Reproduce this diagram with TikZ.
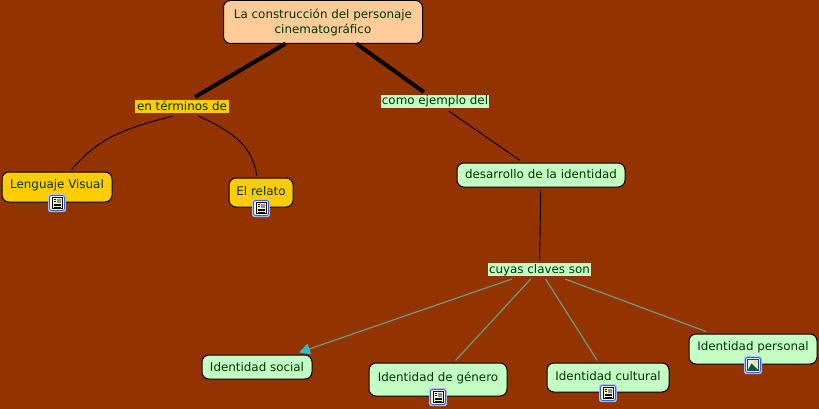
\documentclass[tikz,border=0pt]{standalone}
\usepackage{fontspec}
\setmainfont{DejaVu Sans}
\usetikzlibrary{arrows.meta}
\definecolor{mapbg}{HTML}{933300}
\definecolor{mapgold}{HTML}{FFCC00}
\definecolor{mappeach}{HTML}{FFCC99}
\definecolor{mapmint}{HTML}{C4FFC4}
\definecolor{maptext}{HTML}{003300}
\definecolor{mapline}{HTML}{6F9A80}
\definecolor{maptip}{HTML}{33BBCC}
\definecolor{iconblue}{HTML}{3366CC}
\tikzset{
  box/.style={rectangle,draw=black,line width=1pt,rounded corners=7pt,text=maptext,
    font=\fontsize{11.9}{15}\selectfont,align=center,inner sep=0pt,outer sep=2.5pt},
  linkbox/.style={rectangle,text=maptext,font=\fontsize{11.9}{13}\selectfont,
    inner sep=0pt,outer sep=3pt,text height=9pt,text depth=1pt},
  textdrop/.style={text height=9pt,text depth=#1},
  thick link/.style={line width=4pt,black},
  thin link/.style={line width=.9pt,black},
  teal link/.style={line width=1.2pt,mapline},
  pics/iconframe/.style={code={
    \draw[rounded corners=2pt,draw=iconblue!40,line width=1pt,fill=white] (-8.5,-8.5) rectangle (8.5,8.5);
    \draw[rounded corners=2pt,draw=iconblue,line width=1pt,fill=white] (-7.5,-7.5) rectangle (7.5,7.5);
  }},
  pics/docicon/.style={code={
    \pic {iconframe};
    \draw[black,fill=yellow!25,line width=.7pt] (-5,-5.5) rectangle (5,5.5);
    \fill[iconblue!70] (0,-4.5) rectangle (4,-.5);
    \fill[red!60] (2,-4.5) rectangle (4,-2.5);
    \foreach \ypos in {1,2.7,4.2} {\draw[black,line width=.7pt] (-3.5,\ypos) -- (3.5,\ypos);}
    \foreach \ypos in {-3.5,-1.8} {\draw[black,line width=.7pt] (-3.5,\ypos) -- (-1,\ypos);}
  }},
  pics/imgicon/.style={code={
    \pic {iconframe};
    \draw[iconblue!60!black,fill=iconblue!15,line width=.7pt] (-5.5,-5.5) rectangle (5.5,5.5);
    \fill[yellow!80!orange] (2.5,-3) circle (1.6);
    \fill[green!40!black] (-5,5) -- (-1.5,-1.5) -- (5,5) -- cycle;
  }}
}
\begin{document}
\begin{tikzpicture}[x=1pt,y=-1pt]
\useasboundingbox (0,0) rectangle (819,409);
\fill[mapbg] (0,0) rectangle (819,409);

\node [box,fill=mappeach,minimum width=199pt,minimum height=43pt,outer sep=0pt] (root) at (323,22) {La construcción del personaje\\cinematográfico};
\node [linkbox,fill=mapgold,minimum width=94pt,minimum height=13pt] (terminos) at (182,106.5) {en términos de};
\node [linkbox,fill=mapmint,minimum width=108pt,minimum height=13pt,text depth=2pt] (ejemplo) at (435,101.5) {como ejemplo del};
\node [box,fill=mapgold,minimum width=110pt,minimum height=30pt,textdrop=7pt] (lenguaje) at (57,187) {Lenguaje Visual};
\node [box,fill=mapgold,minimum width=64pt,minimum height=29pt,textdrop=4pt] (relato) at (261,192.5) {El relato};
\node [box,fill=mapmint,minimum width=168pt,minimum height=24pt,textdrop=2.5pt] (desarrollo) at (541,175) {desarrollo de la identidad};
\node [linkbox,fill=mapmint,minimum width=103pt,minimum height=13pt] (claves) at (539.5,269.5) {cuyas claves son};
\node [box,fill=mapmint,minimum width=110pt,minimum height=24pt,textdrop=1pt] (social) at (257,367) {Identidad social};
\node [box,fill=mapmint,minimum width=138pt,minimum height=33pt,textdrop=5pt] (genero) at (438,379.5) {Identidad de género};
\node [box,fill=mapmint,minimum width=122pt,minimum height=29pt,textdrop=4pt] (cultural) at (608,377.5) {Identidad cultural};
\node [box,fill=mapmint,minimum width=128pt,minimum height=30pt,textdrop=7pt] (personal) at (753,349) {Identidad personal};

\draw[thick link] (root.210) -- (terminos.36);
\draw[thick link] (root.327) -- (ejemplo.140);
\draw[thin link] (terminos.226) to[out=195,in=50] (lenguaje.50);
\draw[thin link] (terminos.330) to[out=-25,in=98] (relato.104);
\draw[thin link] (ejemplo) -- (desarrollo);
\draw[thin link] (desarrollo) -- (claves);
\draw[teal link,-{Triangle[length=11pt,width=11pt,color=maptip]}] (claves) -- (social);
\draw[teal link] (claves) -- (genero);
\draw[teal link] (claves) -- (cultural);
\draw[teal link] (claves) -- (personal);

\pic at (57,203) {docicon};
\pic at (261,208) {docicon};
\pic at (438,397) {docicon};
\pic at (608,393) {docicon};
\pic at (753,365) {imgicon};
\end{tikzpicture}
\end{document}
